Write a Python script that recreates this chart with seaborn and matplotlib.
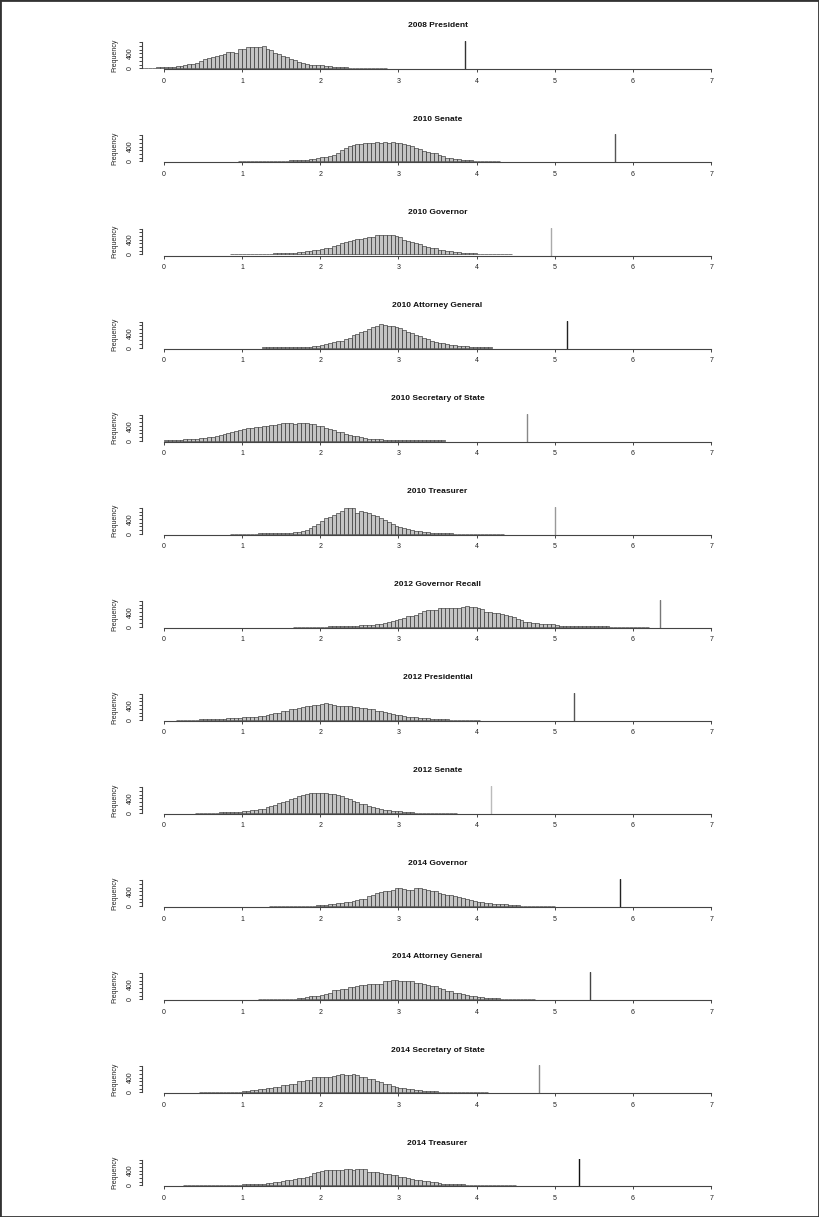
import numpy as np
import pandas as pd
import matplotlib
matplotlib.use("Agg")
import matplotlib.pyplot as plt
import seaborn as sns
from matplotlib.patches import Rectangle

# ===================== DATA =====================
titles = [
    "2008 President", "2010 Senate", "2010 Governor", "2010 Attorney General",
    "2010 Secretary of State", "2010 Treasurer", "2012 Governor Recall",
    "2012 Presidential", "2012 Senate", "2014 Governor",
    "2014 Attorney General", "2014 Secretary of State", "2014 Treasurer",
]
observed = [3.85, 5.77, 4.95, 5.16, 4.65, 5.00, 6.35, 5.24, 4.18, 5.83, 5.45, 4.80, 5.31]
bin_starts = [-0.35, 0.95, 0.85, 1.25, 0.00, 0.85, 1.65, 0.15, 0.40, 1.35, 1.20, 0.45, 0.25]
BIN_WIDTH = 0.05

counts_2008_president = [
    6, 9, 12, 14, 18, 21, 26, 29, 35, 41, 64, 72, 82, 105, 122, 140, 187, 239, 286, 303,
    321, 356, 385, 437, 449, 420, 513, 531, 572, 583, 577, 566, 589, 525, 490, 420, 385,
    338, 315, 251, 216, 175, 152, 111, 99, 82, 84, 79, 64, 52, 41, 33, 26, 21, 18, 16, 14,
    9, 8, 7, 6, 6, 5, 5]
counts_2010_senate = [
    9, 12, 9, 12, 10, 13, 12, 14, 14, 16, 15, 18, 21, 33, 29, 35, 49, 41, 56, 70, 84, 111,
    117, 146, 163, 216, 315, 362, 414, 449, 478, 473, 496, 502, 502, 513, 508, 513, 502,
    513, 496, 484, 467, 432, 414, 368, 338, 274, 263, 222, 216, 175, 146, 99, 93, 70, 58,
    41, 33, 26, 18, 14, 12, 10, 9, 8, 7]
counts_2010_governor = [
    7, 9, 9, 12, 12, 14, 14, 16, 18, 21, 23, 26, 29, 35, 41, 47, 52, 64, 76, 88, 93, 111,
    128, 146, 163, 187, 216, 251, 315, 338, 350, 385, 408, 426, 432, 467, 478, 537, 531,
    537, 525, 519, 490, 473, 397, 373, 327, 309, 274, 233, 204, 175, 163, 128, 111, 93, 84,
    70, 58, 52, 41, 33, 29, 23, 18, 14, 12, 9, 9, 7, 6, 6]
counts_2010_attorney = [
    6, 6, 7, 7, 8, 9, 10, 12, 14, 16, 19, 23, 26, 29, 35, 82, 93, 122, 140, 175, 187, 228,
    263, 338, 362, 420, 455, 513, 548, 572, 630, 601, 589, 583, 548, 525, 478, 408, 385,
    333, 315, 245, 222, 181, 163, 128, 111, 88, 76, 58, 47, 35, 29, 23, 18, 14, 12, 9, 7]
counts_2010_secretary = [
    9, 12, 14, 18, 29, 35, 41, 44, 58, 70, 76, 99, 111, 117, 163, 193, 210, 233, 274, 286,
    315, 333, 350, 362, 368, 385, 408, 420, 432, 443, 490, 484, 467, 461, 478, 473, 467,
    449, 437, 403, 397, 338, 309, 292, 239, 222, 169, 158, 134, 117, 88, 76, 52, 49, 47,
    41, 29, 26, 23, 19, 14, 12, 10, 9, 8, 7, 7, 6, 6, 6, 5, 5]
counts_2010_treasurer = [
    5, 5, 6, 6, 6, 7, 7, 8, 8, 9, 10, 12, 14, 23, 26, 33, 44, 52, 70, 99, 152, 204, 274,
    350, 414, 455, 502, 560, 607, 700, 706, 700, 548, 607, 583, 548, 508, 478, 420, 373,
    321, 268, 222, 187, 158, 128, 105, 76, 64, 47, 37, 29, 23, 14, 12, 9, 8, 7, 7, 6, 6, 6,
    5, 5, 5, 5, 4, 4, 4, 4]
counts_2012_recall = [
    5, 5, 6, 6, 6, 7, 7, 8, 9, 10, 12, 14, 15, 18, 21, 29, 33, 37, 44, 49, 58, 72, 82, 93,
    128, 158, 193, 216, 233, 280, 292, 333, 362, 420, 449, 443, 455, 496, 508, 513, 508,
    519, 513, 548, 566, 543, 537, 496, 484, 414, 403, 368, 362, 350, 333, 286, 274, 222,
    187, 140, 128, 117, 111, 88, 82, 76, 64, 41, 35, 33, 29, 23, 21, 19, 18, 16, 15, 14,
    13, 12, 10, 9, 8, 8, 7, 7, 6, 6, 6, 5, 5]
counts_2012_presidential = [
    7, 8, 9, 9, 12, 12, 14, 21, 23, 26, 23, 29, 33, 41, 44, 49, 52, 70, 72, 88, 93, 105,
    111, 140, 152, 175, 187, 233, 245, 286, 298, 321, 338, 368, 379, 403, 414, 437, 455,
    420, 408, 379, 373, 373, 368, 350, 344, 333, 327, 286, 286, 239, 233, 216, 198, 158,
    146, 128, 117, 93, 88, 70, 64, 52, 47, 35, 33, 26, 23, 14, 12, 10, 9, 9, 8, 7, 6, 6]
counts_2012_senate = [
    7, 8, 9, 9, 12, 14, 16, 21, 26, 29, 33, 41, 58, 64, 82, 88, 105, 122, 175, 193, 228,
    263, 309, 338, 385, 397, 467, 490, 513, 548, 543, 537, 554, 537, 513, 513, 478, 467,
    397, 385, 321, 303, 251, 233, 193, 175, 134, 117, 84, 76, 64, 52, 44, 37, 33, 29, 14,
    12, 10, 9, 9, 8, 7, 7, 6, 6, 5]
counts_2014_governor = [
    5, 5, 6, 6, 7, 7, 8, 9, 9, 12, 12, 14, 23, 26, 33, 47, 58, 82, 91, 111, 117, 152, 163,
    193, 204, 263, 292, 350, 385, 408, 414, 437, 496, 478, 461, 443, 437, 496, 478, 461,
    449, 414, 408, 368, 333, 303, 298, 268, 257, 216, 204, 158, 146, 111, 105, 93, 84, 70,
    64, 52, 47, 41, 35, 33, 14, 12, 10, 9, 8, 7, 6, 6, 5]
counts_2014_attorney = [
    5, 6, 6, 7, 7, 8, 9, 10, 12, 14, 35, 44, 52, 76, 82, 99, 128, 140, 169, 245, 257, 280,
    286, 333, 344, 362, 379, 391, 403, 408, 414, 420, 490, 496, 508, 525, 490, 484, 502,
    496, 449, 437, 403, 397, 362, 350, 303, 280, 233, 222, 169, 158, 134, 117, 99, 88, 64,
    52, 41, 35, 33, 29, 14, 12, 10, 9, 8, 7, 6, 6, 5]
counts_2014_secretary = [
    9, 9, 10, 12, 12, 18, 14, 21, 18, 23, 21, 41, 44, 52, 58, 82, 93, 117, 122, 140, 146,
    198, 210, 228, 233, 309, 315, 327, 338, 414, 420, 426, 420, 426, 432, 467, 502, 473,
    467, 484, 478, 420, 408, 362, 350, 298, 286, 233, 216, 163, 152, 128, 117, 93, 82, 58,
    52, 41, 35, 29, 26, 23, 21, 12, 10, 9, 9, 8, 7, 7, 6, 6, 5, 5]
counts_2014_treasurer = [
    6, 6, 7, 7, 8, 8, 9, 9, 10, 10, 12, 12, 13, 14, 16, 26, 29, 33, 35, 47, 52, 56, 61, 82,
    91, 117, 134, 152, 163, 193, 204, 228, 245, 338, 356, 397, 420, 418, 426, 408, 414,
    449, 455, 420, 437, 432, 441, 373, 362, 350, 344, 309, 303, 280, 274, 233, 222, 193,
    187, 152, 146, 128, 117, 88, 82, 58, 52, 47, 41, 29, 29, 26, 23, 12, 10, 9, 8, 7, 7, 6,
    6, 5, 5, 5, 5]

all_counts = [
    counts_2008_president, counts_2010_senate, counts_2010_governor, counts_2010_attorney,
    counts_2010_secretary, counts_2010_treasurer, counts_2012_recall,
    counts_2012_presidential, counts_2012_senate, counts_2014_governor,
    counts_2014_attorney, counts_2014_secretary, counts_2014_treasurer,
]

# colour of the observed-value line as it shows in the scan
line_colors = ["#333333", "#555555", "#aaaaaa", "#222222", "#888888", "#999999",
               "#777777", "#555555", "#bbbbbb", "#222222", "#444444", "#888888", "#111111"]

# ===================== PLOT =====================
sns.set_style("ticks")
plt.rcParams["font.family"] = ["Liberation Sans", "DejaVu Sans"]

W, H = 819, 1217
fig, axes = plt.subplots(len(titles), 1, figsize=(W / 100, H / 100), dpi=100)
fig.subplots_adjust(left=142 / W, right=733 / W, top=1 - 41.3 / H,
                    bottom=1 - 1186.5 / H, hspace=65.1 / 28)

for ax, title, start, cnt, obs, lc in zip(axes, titles, bin_starts, all_counts,
                                          observed, line_colors):
    n = len(cnt)
    df = pd.DataFrame({
        "mid": start + BIN_WIDTH * (np.arange(n) + 0.5),
        "count": np.asarray(cnt, dtype=float),
    })
    sns.histplot(data=df, x="mid", weights="count", binwidth=BIN_WIDTH,
                 binrange=(start, start + BIN_WIDTH * n), ax=ax, color="#c4c4c4",
                 edgecolor="#1e1e1e", linewidth=0.4, alpha=1)
    ax.axvline(obs, color=lc, lw=1.0)

    ax.set_xlim(-0.28, 7.28)
    ax.set_ylim(-28, 728)
    ax.set_xticks(range(8))
    ax.set_yticks(range(0, 701, 100))
    ax.set_yticklabels(["0", "", "", "", "400", "", "", ""], rotation=90, va="center")
    ax.spines["top"].set_visible(False)
    ax.spines["right"].set_visible(False)
    ax.spines["bottom"].set_bounds(0, 7)
    ax.spines["left"].set_bounds(0, 700)
    for s in ("bottom", "left"):
        ax.spines[s].set_linewidth(0.8)
        ax.spines[s].set_color("#444444")
    ax.tick_params(axis="both", length=2.5, width=0.7, color="#444444",
                   labelsize=5, pad=3.5, labelcolor="#222222")
    ax.set_xlabel("")
    ax.set_ylabel("Frequency", fontsize=5, labelpad=6, color="#222222")
    ax.set_title(title, fontsize=6, fontweight="bold", pad=10, color="#111111")

# frame around the page
fig.patches.append(Rectangle((0, 0), 1, 1, transform=fig.transFigure, fill=False,
                             edgecolor="#333333", linewidth=2))

fig.savefig("out.png", dpi=100)
